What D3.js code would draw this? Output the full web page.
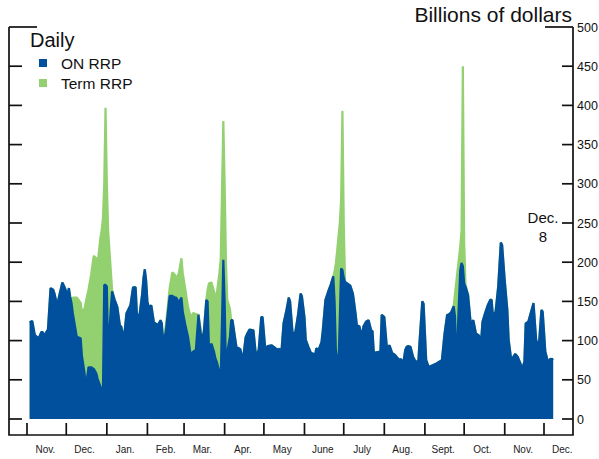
<!DOCTYPE html>
<html><head><meta charset="utf-8">
<script src="https://cdn.jsdelivr.net/npm/d3@7/dist/d3.min.js"></script>
<style>
body{margin:0;background:#fff}
svg{display:block;font-family:"Liberation Sans",Arial,Helvetica,sans-serif}
</style>
</head><body>
<svg id="chart" width="599" height="459"></svg>
<script>
// ---- Data (billions of dollars, daily) ----
const dates = [
"2014-11-03","2014-11-05","2014-11-07","2014-11-10","2014-11-12","2014-11-13","2014-11-14","2014-11-17","2014-11-19","2014-11-21",
"2014-11-22","2014-11-24","2014-11-26","2014-11-28","2014-11-30","2014-12-02","2014-12-03","2014-12-04","2014-12-05","2014-12-06",
"2014-12-09","2014-12-12","2014-12-13","2014-12-15","2014-12-16","2014-12-18","2014-12-20","2014-12-22","2014-12-24","2014-12-25",
"2014-12-27","2014-12-28","2014-12-29","2014-12-30","2014-12-31","2015-01-01","2015-01-02","2015-01-04","2015-01-05","2015-01-07",
"2015-01-09","2015-01-11","2015-01-12","2015-01-14","2015-01-16","2015-01-19","2015-01-21","2015-01-23","2015-01-24","2015-01-26",
"2015-01-28","2015-01-29","2015-01-30","2015-01-31","2015-02-01","2015-02-02","2015-02-04","2015-02-06","2015-02-09","2015-02-11",
"2015-02-12","2015-02-13","2015-02-15","2015-02-18","2015-02-20","2015-02-22","2015-02-23","2015-02-25","2015-02-27","2015-02-28",
"2015-03-02","2015-03-04","2015-03-06","2015-03-08","2015-03-10","2015-03-12","2015-03-14","2015-03-16","2015-03-18","2015-03-19",
"2015-03-20","2015-03-22","2015-03-24","2015-03-25","2015-03-26","2015-03-28","2015-03-29","2015-03-31","2015-04-01","2015-04-02",
"2015-04-03","2015-04-05","2015-04-06","2015-04-07","2015-04-10","2015-04-13","2015-04-15","2015-04-17","2015-04-18","2015-04-20",
"2015-04-23","2015-04-25","2015-04-27","2015-04-29","2015-04-30","2015-05-02","2015-05-04","2015-05-07","2015-05-10","2015-05-12",
"2015-05-13","2015-05-14","2015-05-16","2015-05-18","2015-05-20","2015-05-21","2015-05-23","2015-05-25","2015-05-27","2015-05-29",
"2015-05-30","2015-06-01","2015-06-02","2015-06-04","2015-06-06","2015-06-08","2015-06-09","2015-06-10","2015-06-12","2015-06-14",
"2015-06-15","2015-06-17","2015-06-19","2015-06-21","2015-06-23","2015-06-24","2015-06-25","2015-06-26","2015-06-27","2015-06-28",
"2015-06-29","2015-06-30","2015-07-01","2015-07-02","2015-07-06","2015-07-08","2015-07-10","2015-07-11","2015-07-13","2015-07-15",
"2015-07-16","2015-07-18","2015-07-20","2015-07-22","2015-07-23","2015-07-24","2015-07-26","2015-07-29","2015-07-30","2015-08-01",
"2015-08-03","2015-08-05","2015-08-07","2015-08-09","2015-08-12","2015-08-14","2015-08-15","2015-08-17","2015-08-18","2015-08-19",
"2015-08-21","2015-08-23","2015-08-25","2015-08-27","2015-08-28","2015-08-30","2015-08-31","2015-09-02","2015-09-04","2015-09-06",
"2015-09-09","2015-09-12","2015-09-14","2015-09-16","2015-09-18","2015-09-19","2015-09-21","2015-09-23","2015-09-24","2015-09-25",
"2015-09-28","2015-09-29","2015-09-30","2015-10-01","2015-10-02","2015-10-04","2015-10-06","2015-10-08","2015-10-10","2015-10-12",
"2015-10-14","2015-10-15","2015-10-17","2015-10-19","2015-10-21","2015-10-22","2015-10-23","2015-10-25","2015-10-27","2015-10-29",
"2015-10-30","2015-11-01","2015-11-03","2015-11-04","2015-11-06","2015-11-09","2015-11-11","2015-11-13","2015-11-14","2015-11-16",
"2015-11-17","2015-11-19","2015-11-21","2015-11-23","2015-11-25","2015-11-27","2015-11-29","2015-11-30","2015-12-02","2015-12-04",
"2015-12-06","2015-12-07","2015-12-08"
];
const onRRP = [
123,125,107,103,111,111,106,114,167,165,
160,145,160,174,167,158,167,156,148,135,
105,103,80,58,41,66,66,64,58,51,
42,37,34,171,171,169,84,140,163,152,
143,119,118,102,135,145,168,168,133,133,
160,180,191,177,150,143,145,123,120,126,
122,99,111,157,157,155,155,149,155,137,
120,105,82,86,88,133,105,109,152,150,
92,96,85,77,73,60,50,203,150,62,
85,105,126,126,92,89,75,104,108,114,
113,80,88,130,130,90,93,94,90,88,
90,77,122,137,155,150,108,111,132,160,
157,130,101,92,84,83,80,90,89,98,
113,152,162,171,182,150,88,75,67,130,
192,190,180,175,170,160,135,120,118,105,
118,124,126,113,112,84,85,86,133,130,
90,94,84,82,76,76,66,88,92,93,
92,79,73,74,101,150,147,75,66,68,
70,73,75,109,133,133,136,144,131,66,
190,199,195,173,169,158,122,126,109,107,
101,124,135,145,152,152,131,137,169,225,
222,177,139,101,75,83,79,71,63,73,
122,124,136,148,101,92,139,137,86,73,
77,76,77
];
const termRRP = [
0,0,0,0,0,0,0,0,0,0,
0,0,0,0,0,0,0,0,2,20,
50,45,57,83,109,99,118,144,147,147,
188,203,221,129,226,131,156,50,2,0,
0,0,0,0,0,0,0,0,0,0,
0,0,0,0,0,0,0,0,0,0,
0,0,7,10,30,29,24,37,50,49,
45,38,48,49,46,0,6,0,0,15,
81,78,77,79,87,126,153,177,150,138,
67,36,0,0,0,0,0,0,0,0,
0,0,0,0,0,0,0,0,0,0,
0,0,0,0,0,0,0,0,0,0,
0,0,0,0,0,0,0,0,0,0,
0,0,0,0,0,38,111,140,166,120,
88,203,70,0,0,0,0,0,0,0,
0,0,0,0,0,0,0,0,0,0,
0,0,0,0,0,0,0,0,0,0,
0,0,0,0,0,0,0,0,0,0,
0,0,0,0,0,0,0,0,29,109,
30,41,255,52,3,0,0,0,0,0,
0,0,0,0,0,0,0,0,0,0,
0,0,0,0,0,0,0,0,0,0,
0,0,0,0,0,0,0,0,0,0,
0,0,0
];
const yTicks = [0,50,100,150,200,250,300,350,400,450,500];
const monthStarts = ["2014-11-01","2014-12-01","2015-01-01","2015-02-01","2015-03-01","2015-04-01","2015-05-01",
  "2015-06-01","2015-07-01","2015-08-01","2015-09-01","2015-10-01","2015-11-01","2015-12-01"];
const monthLabels = ["Nov.","Dec.","Jan.","Feb.","Mar.","Apr.","May","June","July","Aug.","Sept.","Oct.","Nov.","Dec."];
const seriesNames = ["ON RRP","Term RRP"];
const colors = {"ON RRP":"#00509d","Term RRP":"#93d070"};

// ---- Build ----
const parse = d3.utcParse("%Y-%m-%d");
const rows = dates.map((d,i)=>({date:parse(d),"ON RRP":onRRP[i],"Term RRP":termRRP[i]}));
const stacked = d3.stack().keys(seriesNames)(rows);

const svg = d3.select("#chart");
const L = 9, R = 573, T = 27, B = 435;
const x = d3.scaleUtc().domain([parse("2014-11-01"), parse("2015-12-01")]).range([27, 544]);
const y = d3.scaleLinear().domain([0,500]).range([419, 27]);

const plot = svg.append("g");
// Draw Term RRP (stacked on top) as total area first, then ON RRP over it
["Term RRP","ON RRP"].forEach(key=>{
  const s = stacked.find(t=>t.key===key);
  plot.append("path")
    .attr("d", d3.area().x(d=>x(d.data.date)).y0(y(0)).y1(d=>y(d[1]))(s))
    .attr("fill", colors[key]);
  plot.append("path")
    .attr("d", d3.line().x(d=>x(d.data.date)).y(d=>y(d[1]))(s))
    .attr("fill", "none").attr("stroke", colors[key]).attr("stroke-width", 2.2)
    .attr("stroke-linejoin", "bevel");
});

// ---- Frame ----
const axisColor = "#111";
const frame = svg.append("g").attr("stroke", axisColor).attr("stroke-width", 1.7).attr("fill","none");
frame.append("path").attr("d", `M${L},${T}V${B}H${R}V${T}`);

// y ticks both sides
yTicks.forEach(v=>{
  const yy = y(v);
  const top = v === 500;
  frame.append("line").attr("x1", L).attr("x2", top ? 37 : 22).attr("y1", yy).attr("y2", yy);
  frame.append("line").attr("x1", top ? 545 : 562).attr("x2", R).attr("y1", yy).attr("y2", yy);
});
svg.append("g").selectAll("text").data(yTicks).join("text")
  .attr("x", 577).attr("y", d=>y(d)+4.5)
  .attr("font-size", 12.5).attr("fill", "#111")
  .text(d=>d);

// x ticks at month starts
monthStarts.forEach(m=>{
  const xx = x(parse(m));
  frame.append("line").attr("x1", xx).attr("x2", xx).attr("y1", 423).attr("y2", B);
});
svg.append("g").selectAll("text").data(monthLabels).join("text")
  .attr("x", (d,i)=>{ const s = parse(monthStarts[i]); return x(d3.utcDay.offset(s, 14)); })
  .attr("y", 453).attr("text-anchor","middle")
  .attr("font-size", 10).attr("fill", "#222")
  .text(d=>d);

// ---- Texts ----
svg.append("text").attr("x", 572).attr("y", 22).attr("text-anchor","end")
  .attr("font-size", 21).attr("fill","#111").text("Billions of dollars");

svg.append("text").attr("x", 30).attr("y", 47).attr("font-size", 20).attr("fill","#111").text("Daily");
seriesNames.forEach((n,i)=>{
  const yy = 63 + i*20;
  svg.append("rect").attr("x", 39).attr("y", yy-4).attr("width", 8).attr("height", 8).attr("fill", colors[n]);
  svg.append("text").attr("x", 61).attr("y", yy+6).attr("font-size", 15.5).attr("fill","#111").text(n);
});

svg.append("text").attr("x", 543).attr("y", 223).attr("text-anchor","middle")
  .attr("font-size", 15).attr("fill","#111").text("Dec.");
svg.append("text").attr("x", 543).attr("y", 242).attr("text-anchor","middle")
  .attr("font-size", 15).attr("fill","#111").text("8");
</script>
</body></html>
